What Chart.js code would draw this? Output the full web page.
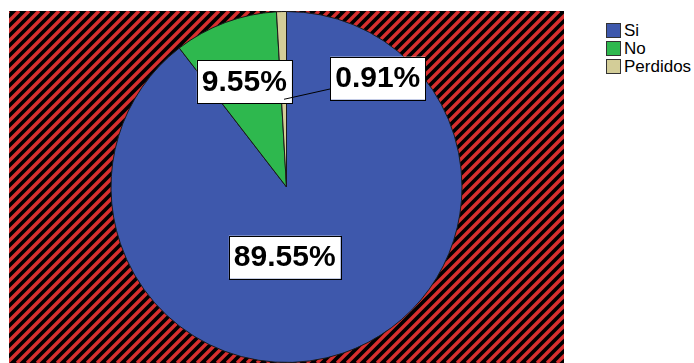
<!DOCTYPE html>
<html>
<head>
<meta charset="utf-8">
<script src="https://cdn.jsdelivr.net/npm/chart.js@4.4.0/dist/chart.umd.min.js"></script>
<style>
  html, body { margin: 0; padding: 0; background: #fff; width: 694px; height: 363px; overflow: hidden; }
  #wrap { position: absolute; left: 9px; top: 11px; width: 555px; height: 352px; }
  #legend { position: absolute; left: 606px; top: 22px; font-family: 'Liberation Sans', Arial, sans-serif; font-size: 17px; color: #000; }
  .item { display: flex; align-items: center; height: 17px; margin-bottom: 1px; }
  .box { width: 15px; height: 15px; border: 1px solid #333; margin-right: 3px; box-sizing: border-box; }
</style>
</head>
<body>
<div id="wrap"><canvas id="pieChart" width="555" height="352"></canvas></div>
<div id="legend"></div>
<script>
// datos
const labels = ['Si', 'No', 'Perdidos'];
const values = [89.55, 9.55, 0.91];
const colors = ['#3e58ac', '#2eb84e', '#d3cd98'];
// posicion de las etiquetas, relativa al centro (en radios)
const labelPos = [[-0.01, 0.40], [-0.24, -0.60], [0.52, -0.62]];
const leaders = [false, false, true];

// fondo rayado rojo / negro
const stripes = {
  id: 'stripes',
  beforeDraw(chart) {
    const ctx = chart.ctx, w = chart.width, h = chart.height;
    ctx.save();
    ctx.fillStyle = '#000';
    ctx.fillRect(0, 0, w, h);
    ctx.beginPath();
    ctx.rect(0, 0, w, h);
    ctx.clip();
    ctx.strokeStyle = '#d62f2f';
    ctx.lineWidth = 3.4;
    for (let c = -h; c < w + h; c += 10) {
      ctx.beginPath();
      ctx.moveTo(c, h);
      ctx.lineTo(c + h, 0);
      ctx.stroke();
    }
    ctx.restore();
  }
};

// etiquetas con caja blanca
const boxLabels = {
  id: 'boxLabels',
  afterDatasetsDraw(chart) {
    const ctx = chart.ctx;
    const meta = chart.getDatasetMeta(0);
    ctx.save();
    ctx.font = 'bold 30px "Liberation Sans", Arial, sans-serif';
    ctx.textAlign = 'center';
    ctx.textBaseline = 'middle';
    meta.data.forEach((arc, i) => {
      const r = arc.outerRadius;
      const x = arc.x + labelPos[i][0] * r;
      const y = arc.y + labelPos[i][1] * r;
      const text = values[i].toFixed(2) + '%';
      const bw = ctx.measureText(text).width + 10;
      const bh = 43;
      if (leaders[i]) {
        const mid = (arc.startAngle + arc.endAngle) / 2;
        ctx.strokeStyle = '#000';
        ctx.lineWidth = 1;
        ctx.beginPath();
        ctx.moveTo(arc.x + Math.cos(mid) * r * 0.5, arc.y + Math.sin(mid) * r * 0.5);
        ctx.lineTo(x - bw / 2, y + bh * 0.25);
        ctx.stroke();
      }
      ctx.fillStyle = '#fff';
      ctx.fillRect(x - bw / 2, y - bh / 2, bw, bh);
      ctx.strokeStyle = '#000';
      ctx.lineWidth = 1;
      ctx.strokeRect(Math.round(x - bw / 2) + 0.5, Math.round(y - bh / 2) + 0.5, Math.round(bw), bh);
      ctx.fillStyle = '#000';
      ctx.fillText(text, x, y + 1);
    });
    ctx.restore();
  }
};

const ctx = document.getElementById('pieChart').getContext('2d');
const pieChart = new Chart(ctx, {
  type: 'pie',
  data: {
    labels: labels,
    datasets: [{
      data: values,
      backgroundColor: colors,
      borderColor: '#1a1a1a',
      borderWidth: 1,
    }],
  },
  options: {
    responsive: false,
    animation: false,
    layout: { padding: 0 },
    plugins: {
      legend: { display: false },
      tooltip: { enabled: false },
    },
  },
  plugins: [stripes, boxLabels],
});

// leyenda
const legend = document.getElementById('legend');
labels.forEach((label, i) => {
  const item = document.createElement('div');
  item.className = 'item';
  item.innerHTML = '<div class="box" style="background:' + colors[i] + '"></div><span>' + label + '</span>';
  legend.appendChild(item);
});
</script>
</body>
</html>
